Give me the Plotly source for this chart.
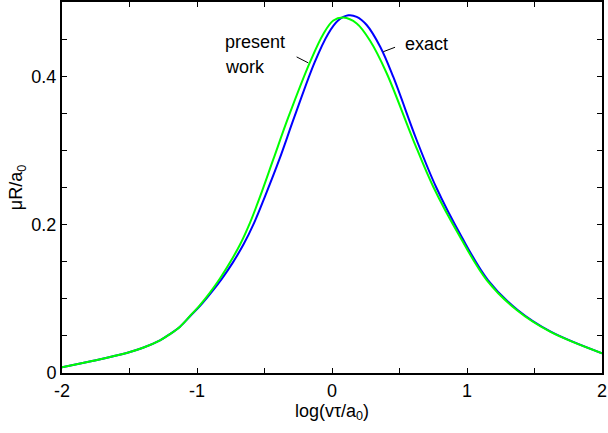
import plotly.graph_objects as go

# log(v tau / a0) sample points and muR/a0 values
x_exact = [-2.0, -1.768, -1.521, -1.4, -1.274, -1.2, -1.126, -1.05, -0.972, -0.895, -0.815, -0.735, -0.656,
           -0.576, -0.497, -0.39, -0.28, -0.128, -0.029, 0.045, 0.121, 0.183, 0.257, 0.356, 0.454, 0.627, 0.77,
           0.96, 1.155, 1.375, 1.62, 2.0]
y_exact = [0.0077, 0.0165, 0.027, 0.034, 0.044, 0.0525, 0.0625, 0.0768, 0.0916, 0.1084, 0.1273, 0.1488, 0.1731,
           0.2027, 0.2377, 0.2878, 0.3444, 0.419, 0.457, 0.475, 0.482, 0.480, 0.469, 0.440, 0.399, 0.314, 0.251,
           0.1836, 0.1253, 0.0848, 0.0556, 0.0265]

x_present = [-2.0, -1.768, -1.521, -1.4, -1.274, -1.2, -1.126, -1.052, -0.978, -0.904, -0.83, -0.756, -0.681,
             -0.607, -0.533, -0.435, -0.324, -0.163, -0.064, 0.01, 0.084, 0.183, 0.281, 0.405, 0.602, 0.75,
             0.948, 1.146, 1.368, 1.615, 2.0]
y_present = [0.0077, 0.0165, 0.027, 0.034, 0.044, 0.0525, 0.0625, 0.0768, 0.0916, 0.1084, 0.1273, 0.1488, 0.1731,
             0.2027, 0.2377, 0.2878, 0.3444, 0.419, 0.457, 0.475, 0.479, 0.471, 0.448, 0.404, 0.314, 0.251,
             0.1836, 0.1253, 0.0848, 0.0556, 0.0265]

x_ticks = [-2, -1, 0, 1, 2]
x_tick_text = ["-2", "-1", "0", "1", "2"]
y_ticks = [0, 0.2, 0.4]
y_tick_text = ["0", "0.2", "0.4"]

font = "Liberation Sans, Arial, sans-serif"

fig = go.Figure()
fig.add_trace(go.Scatter(x=x_exact, y=y_exact, mode="lines", name="exact",
                         line=dict(color="#0000ff", width=2, shape="spline", smoothing=1)))
fig.add_trace(go.Scatter(x=x_present, y=y_present, mode="lines", name="present work",
                         line=dict(color="#00ff00", width=2, shape="spline", smoothing=1)))

# labels with short leader lines
fig.add_annotation(x=-0.81, y=0.446, text="present", showarrow=False, xanchor="left",
                   font=dict(size=18, color="black", family=font))
fig.add_annotation(x=-0.81, y=0.413, text="work", showarrow=False, xanchor="left",
                   font=dict(size=18, color="black", family=font))
fig.add_annotation(x=0.525, y=0.443, text="exact", showarrow=False, xanchor="left",
                   font=dict(size=18, color="black", family=font))
fig.add_shape(type="line", x0=-0.262, y0=0.426, x1=-0.176, y1=0.418, line=dict(color="black", width=1))
fig.add_shape(type="line", x0=0.380, y0=0.433, x1=0.467, y1=0.439, line=dict(color="black", width=1))

axis_common = dict(showgrid=False, zeroline=False, showline=True, linecolor="black", linewidth=2,
                   mirror="allticks", ticks="inside", ticklen=5, tickwidth=1, tickcolor="black",
                   automargin=False,
                   tickfont=dict(size=18, color="black", family=font))

fig.update_layout(
    width=608, height=433,
    margin=dict(l=62, r=6, t=2, b=60),
    paper_bgcolor="white", plot_bgcolor="white",
    showlegend=False,
    font=dict(family=font, size=18, color="black"),
    xaxis=dict(range=[-2, 2], tickmode="array", tickvals=x_ticks, ticktext=x_tick_text,
               minor=dict(dtick=0.5, tick0=-2, ticks="inside", ticklen=5, tickcolor="black"),
               title=dict(text="log(vτ/a<sub>0</sub>)", standoff=2, font=dict(size=18)),
               **axis_common),
    yaxis=dict(range=[0, 0.5], tickmode="array", tickvals=y_ticks, ticktext=y_tick_text,
               minor=dict(dtick=0.05, tick0=0, ticks="inside", ticklen=5, tickcolor="black"),
               title=dict(text="μR/a<sub>0</sub>", standoff=4, font=dict(size=18)),
               **axis_common),
)

# the page body has a default 8px margin; drop it so the figure fills the window
fig.write_html("out.html", config={"displayModeBar": False},
               post_script="document.body.style.margin='0';")
